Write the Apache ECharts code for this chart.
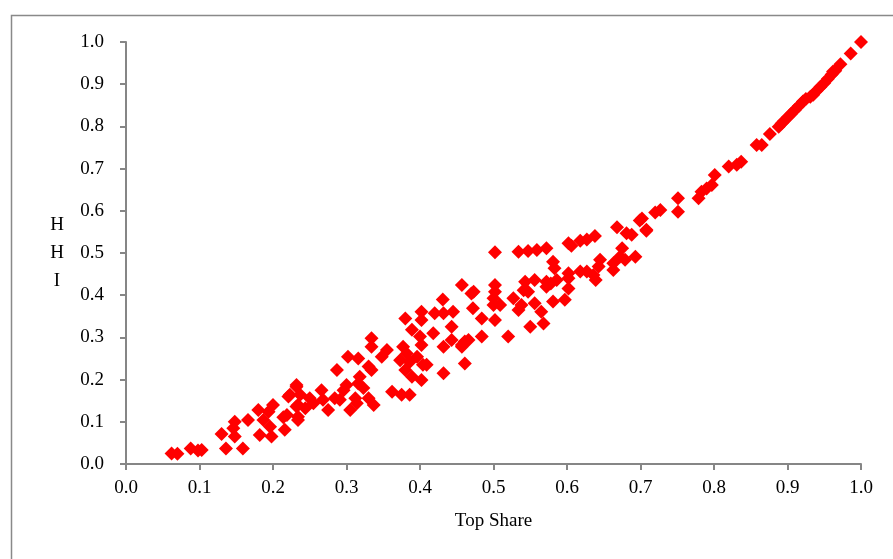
<!DOCTYPE html>
<html><head><meta charset="utf-8">
<script src="https://cdn.jsdelivr.net/npm/echarts@6/dist/echarts.min.js"></script>
<style>html,body{margin:0;padding:0;background:#fff}#c{width:893px;height:559px}</style>
</head><body><div id="c"></div>
<script>
const xTicks = ['0.0','0.1','0.2','0.3','0.4','0.5','0.6','0.7','0.8','0.9','1.0'];
const topShare = [
0.062,0.070,0.088,0.098,0.103,0.130,0.136,0.148,0.146,0.148,0.159,0.166,0.180,0.182,0.187,0.196,0.198,0.200,0.194,0.214,0.216,0.221,0.232,0.232,0.234,
0.457,0.470,0.472,0.431,0.402,0.380,0.420,0.432,0.445,0.402,0.389,0.443,0.418,0.400,0.402,0.443,0.432,0.461,0.457,0.461,0.432,
0.334,0.334,0.355,0.348,0.377,0.382,0.373,0.386,0.396,0.404,0.409,0.380,0.389,0.402,0.302,0.316,0.330,0.334,0.287,0.318,0.316,0.300,0.323,0.296,0.266,
0.232,0.223,0.237,0.250,0.268,0.284,0.291,0.312,0.330,0.362,0.375,0.386,0.337,0.314,0.305,0.275,0.255,0.234,0.244,0.219,0.234,
0.502,0.534,0.547,0.559,0.572,0.602,0.606,0.618,0.627,0.638,0.668,0.681,0.688,0.708,0.699,0.675,0.672,0.679,0.693,0.663,0.663,0.645,0.643,0.636,0.639,
0.627,0.618,0.602,0.602,0.581,0.583,0.586,0.572,0.556,0.543,0.541,0.547,0.527,0.534,0.538,0.556,0.565,0.568,0.550,0.581,0.597,0.602,0.572,0.578,
0.502,0.502,0.500,0.509,0.500,0.502,0.520,0.473,0.484,0.457,0.466,0.484,
1.000,0.986,0.972,0.962,0.965,0.960,0.955,0.950,0.945,0.940,0.935,0.931,0.925,0.921,0.915,0.910,0.905,0.901,0.895,0.892,0.888,0.876,0.865,0.858,
0.837,0.831,0.820,0.801,0.797,0.790,0.783,0.779,0.751,0.751,0.727,0.720,0.702,0.708
];
const hhi = [
0.025,0.024,0.037,0.032,0.033,0.071,0.037,0.100,0.085,0.065,0.037,0.104,0.128,0.069,0.104,0.088,0.065,0.140,0.124,0.111,0.081,0.160,0.183,0.136,0.104,
0.424,0.404,0.369,0.390,0.361,0.345,0.357,0.357,0.361,0.341,0.318,0.325,0.310,0.302,0.282,0.294,0.278,0.290,0.278,0.238,0.215,
0.298,0.278,0.270,0.254,0.278,0.262,0.246,0.242,0.254,0.235,0.235,0.223,0.207,0.199,0.254,0.250,0.231,0.223,0.223,0.207,0.191,0.187,0.180,0.175,0.175,
0.187,0.164,0.164,0.156,0.152,0.156,0.152,0.156,0.156,0.171,0.164,0.164,0.140,0.144,0.128,0.128,0.144,0.140,0.132,0.116,0.112,
0.502,0.503,0.505,0.507,0.511,0.523,0.517,0.529,0.532,0.540,0.561,0.547,0.543,0.553,0.577,0.511,0.491,0.484,0.491,0.476,0.460,0.484,0.468,0.448,0.436,
0.456,0.456,0.452,0.440,0.479,0.464,0.436,0.432,0.436,0.432,0.412,0.408,0.393,0.365,0.377,0.381,0.361,0.333,0.325,0.385,0.389,0.416,0.420,0.428,
0.424,0.408,0.393,0.377,0.377,0.341,0.302,0.408,0.345,0.282,0.294,0.302,
1.000,0.973,0.947,0.930,0.932,0.923,0.913,0.903,0.894,0.885,0.875,0.870,0.865,0.859,0.848,0.839,0.830,0.823,0.812,0.807,0.799,0.782,0.756,0.756,
0.716,0.709,0.705,0.685,0.661,0.653,0.645,0.630,0.630,0.598,0.602,0.596,0.582,0.555
];
const points = topShare.map((x, i) => [x, hhi[i]]);
const font = 'Liberation Serif';
const chart = echarts.init(document.getElementById('c'));
chart.setOption({
  animation: false,
  backgroundColor: '#fff',
  graphic: [{ type: 'rect', left: 9, top: 13, shape: { width: 920, height: 600 }, style: { fill: 'none', stroke: '#898989', lineWidth: 1.5 }, silent: true }],
  grid: { left: 126, right: 32, top: 42, bottom: 95 },
  xAxis: {
    type: 'value', min: 0, max: 1, interval: 0.1,
    name: 'Top Share', nameLocation: 'middle', nameGap: 48,
    nameTextStyle: { fontFamily: font, fontSize: 19, color: '#000' },
    axisLine: { show: true, lineStyle: { color: '#868686', width: 2 } },
    axisTick: { show: true, inside: false, length: 6, lineStyle: { color: '#868686', width: 2 } },
    axisLabel: { margin: 15, fontFamily: font, fontSize: 19, color: '#000', formatter: (v) => xTicks[Math.round(v * 10)] },
    splitLine: { show: false }
  },
  yAxis: {
    type: 'value', min: 0, max: 1, interval: 0.1,
    name: 'H\nH\nI', nameLocation: 'middle', nameGap: 69, nameRotate: 0,
    nameTextStyle: { fontFamily: font, fontSize: 19, color: '#000', lineHeight: 28, align: 'center', padding: [10, 0, 0, 0] },
    axisLine: { show: true, lineStyle: { color: '#868686', width: 2 } },
    axisTick: { show: true, inside: false, length: 6, lineStyle: { color: '#868686', width: 2 } },
    axisLabel: { margin: 22, fontFamily: font, fontSize: 19, color: '#000', formatter: (v) => v.toFixed(1) },
    splitLine: { show: false }
  },
  series: [{
    type: 'scatter', data: points, symbol: 'diamond', symbolSize: 14,
    itemStyle: { color: '#ff0000', opacity: 1 }
  }]
});
</script></body></html>
